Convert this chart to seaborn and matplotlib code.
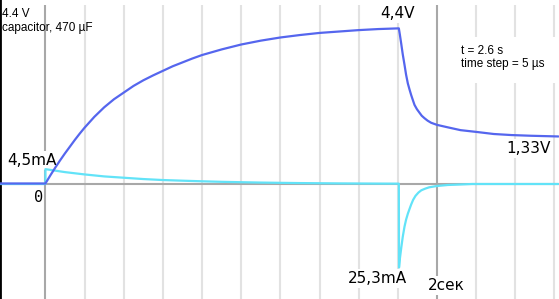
import matplotlib
matplotlib.use("Agg")
import matplotlib.pyplot as plt
from matplotlib.patches import Rectangle
import numpy as np
import pandas as pd
import seaborn as sns

# ---- data ----
# capacitor voltage (V) vs time (s)
volt_t = [-0.232, 0.0, 0.025, 0.05, 0.075, 0.1, 0.125, 0.15, 0.175, 0.2, 0.25, 0.3, 0.35,
          0.4, 0.45, 0.5, 0.55, 0.6, 0.65, 0.7, 0.75, 0.8, 0.85, 0.9, 0.95, 1.0,
          1.1, 1.2, 1.3, 1.4, 1.5, 1.6, 1.7, 1.805,
          1.81, 1.817, 1.825, 1.834, 1.842, 1.851, 1.86, 1.868, 1.877, 1.885, 1.897,
          1.91, 1.922, 1.936, 1.952, 1.97, 1.985, 2.0, 2.055, 2.12,
          2.2, 2.29, 2.38, 2.48, 2.62]
volt_v = [0.0, 0.0, 0.23, 0.45, 0.66, 0.86, 1.05, 1.24, 1.42, 1.59, 1.90, 2.17, 2.40,
          2.59, 2.78, 2.94, 3.08, 3.21, 3.34, 3.45, 3.56, 3.66, 3.74, 3.82, 3.89, 3.96,
          4.07, 4.16, 4.23, 4.29, 4.33, 4.37, 4.40, 4.42,
          4.25, 3.99, 3.68, 3.38, 3.10, 2.85, 2.67, 2.52, 2.37, 2.24, 2.12,
          2.02, 1.93, 1.86, 1.79, 1.73, 1.70, 1.67, 1.60, 1.52,
          1.47, 1.41, 1.38, 1.36, 1.34]
# capacitor current (mA) vs time (s)
curr_t = [-0.232, 0.0, 0.0, 0.1, 0.2, 0.3, 0.4, 0.5, 0.6, 0.7, 0.8, 0.9, 1.0, 1.1, 1.2,
          1.3, 1.4, 1.5, 1.6, 1.7, 1.805, 1.806, 1.81, 1.817, 1.825, 1.834, 1.842,
          1.851, 1.86, 1.868, 1.878, 1.89, 1.905, 1.92, 1.94, 1.96, 2.0, 2.055, 2.12,
          2.18, 2.62]
curr_i = [0.0, 0.0, 4.5, 3.6, 2.9, 2.3, 1.9, 1.5, 1.2, 1.0, 0.82, 0.66, 0.54, 0.43, 0.35,
          0.28, 0.23, 0.18, 0.15, 0.12, 0.10, -25.3, -22.8, -19.5, -16.0, -12.9, -10.8,
          -9.0, -7.5, -6.2, -4.8, -3.6, -2.6, -1.9, -1.4, -1.0, -0.6, -0.3, -0.15,
          0.0, 0.0]
grid_times = [0.2, 0.4, 0.6, 0.8, 1.0, 1.2, 1.4, 1.6, 1.8, 2.2, 2.4, 2.6]
major_times = [0.0, 2.0]

df_v = pd.DataFrame({"t": volt_t, "v": volt_v})
df_i = pd.DataFrame({"t": curr_t, "i": curr_i})

sns.set_style("white")
plt.rcParams["font.family"] = ["DejaVu Sans"]

W, H = 559, 299
fig = plt.figure(figsize=(W / 100, H / 100), dpi=100)
ax = fig.add_axes([0, 0, 1, 1])
ax2 = ax.twinx()

XMIN, XMAX = -0.232, 2.623
for a in (ax, ax2):
    a.set_xlim(XMIN, XMAX)
ax.set_ylim(-34.85, 55.76)      # current axis (mA)
ax2.set_ylim(-3.291, 5.228)     # voltage axis (V)

# grid
ax.set_xticks(grid_times)
ax.grid(axis="x", color="#e2e2e2", lw=1.5, zorder=0.5)
ax.set_axisbelow(True)
for m in major_times:
    ax.axvline(m, color="#a8a8a8", lw=1.5, zorder=0.6)
ax.axhline(0, color="#a8a8a8", lw=1.5, zorder=0.7)

for a in (ax, ax2):
    a.tick_params(left=False, right=False, bottom=False, top=False,
                  labelleft=False, labelright=False, labelbottom=False)
    for s in a.spines.values():
        s.set_visible(False)
ax.spines["left"].set_visible(True)
ax.spines["left"].set_color("black")
ax.spines["left"].set_linewidth(2)

# white areas over grid (top strip and info box)
ax.add_patch(Rectangle((0, 1 - 5 / H), 1, 5 / H, transform=ax.transAxes,
                       fc="white", ec="none", zorder=1))
ax.add_patch(Rectangle((453 / W, 1 - 83 / H), 106 / W, 46 / H, transform=ax.transAxes,
                       fc="white", ec="none", zorder=1))

# traces
sns.lineplot(data=df_i, x="t", y="i", ax=ax, sort=False, estimator=None,
             color="#62e3f8", lw=1.6, zorder=3)
sns.lineplot(data=df_v, x="t", y="v", ax=ax2, sort=False, estimator=None,
             color="#5566ee", lw=1.6, zorder=3)
for a in (ax, ax2):
    a.set_xlabel("")
    a.set_ylabel("")
    a.set_yticks([])

def px(x, y):
    return x / W, 1 - y / H

box = dict(boxstyle="square,pad=0.12", fc="white", ec="none")
small = dict(family=["Liberation Sans", "DejaVu Sans"], fontsize=8.5, color="black")
big = dict(fontsize=11, color="black")

ax.text(*px(2, 17.3), "4.4 V", transform=ax.transAxes, va="baseline", ha="left",
        zorder=2, **small)
ax.text(*px(2, 30.5), "capacitor, 470 µF", transform=ax.transAxes, va="baseline",
        ha="left", zorder=2, **small)
ax.text(*px(461, 54), "t = 2.6 s", transform=ax.transAxes, va="baseline", ha="left",
        zorder=2, **small)
ax.text(*px(461, 67.5), "time step = 5 µs", transform=ax.transAxes, va="baseline",
        ha="left", zorder=2, **small)

ax.text(*px(7, 165), "4,5mA", transform=ax.transAxes, va="baseline", ha="left",
        bbox=box, zorder=2, **big)
ax.text(*px(38.5, 201.7), "0", transform=ax.transAxes, va="baseline", ha="center",
        family="DejaVu Sans Mono", fontsize=11, color="black", zorder=2)
ax.text(*px(380.5, 18.3), "4,4V", transform=ax.transAxes, va="baseline", ha="left",
        bbox=box, zorder=2, **big)
ax.text(*px(506.5, 153.3), "1,33V", transform=ax.transAxes, va="baseline", ha="left",
        bbox=box, zorder=2, **big)
ax.text(*px(348, 282.7), "25,3mA", transform=ax.transAxes, va="baseline", ha="left",
        bbox=box, zorder=2, **big)
ax.text(*px(428.3, 290), "2сек", transform=ax.transAxes, va="baseline", ha="left",
        bbox=box, zorder=2, **big)

fig.savefig("out.png", dpi=100, facecolor="white")
